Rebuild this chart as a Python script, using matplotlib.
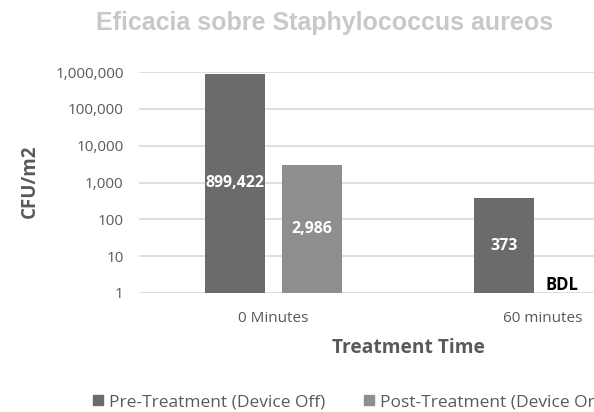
import numpy as np
import matplotlib.pyplot as plt
from matplotlib.patches import Patch

categories = ["0 Minutes", "60 minutes"]
pre_values = [899422, 373]
post_values = [2986, np.nan]  # BDL at 60 minutes
pre_labels = ["899,422", "373"]
post_labels = ["2,986", "BDL"]
series_names = ["Pre-Treatment (Device Off)", "Post-Treatment (Device On)"]
ytick_vals = [1, 10, 100, 1000, 10000, 100000, 1000000]
ytick_labels = ["1", "10", "100", "1,000", "10,000", "100,000", "1,000,000"]

pre_color = "#6b6b6b"
post_color = "#8e8e8e"

plt.rcParams['font.family'] = ['Open Sans', 'DejaVu Sans']

fig = plt.figure(figsize=(5.94, 4.12), dpi=100)
ax = fig.add_axes([0.234, 0.289, 0.907, 0.536])

x = np.arange(len(categories))
w = 0.222
off_pre, off_post = -0.144, 0.141

ax.bar(x + off_pre, np.array(pre_values) - 1, w, bottom=1, color=pre_color, zorder=3)
post_arr = np.nan_to_num(np.array(post_values, dtype=float), nan=1.0)
ax.bar(x + off_post, post_arr - 1, w, bottom=1, color=post_color, zorder=3)

ax.set_yscale('log')
ax.set_ylim(1, 1e6)
ax.set_xlim(-0.5, 1.5)
ax.set_yticks(ytick_vals)
ax.set_yticklabels(ytick_labels)
ax.minorticks_off()
ax.set_xticks(x)
ax.set_xticklabels(categories)
ax.tick_params(axis='both', length=0, labelsize=11, labelcolor="#5a5a5a")
ax.tick_params(axis='y', pad=11)
ax.tick_params(axis='x', pad=13)
ax.yaxis.grid(True, color="#d9d9d9", linewidth=1.2, zorder=0)
for s in ax.spines.values():
    s.set_visible(False)

for i, v in enumerate(pre_values):
    ax.text(x[i] + off_pre, np.sqrt(v), pre_labels[i], ha='center', va='center',
            color='white', fontsize=11.5, fontweight='bold', zorder=4)
for i, v in enumerate(post_values):
    if np.isnan(v):
        ax.text(x[i] + off_post - 0.07, 1.6, post_labels[i], ha='center', va='center',
                color='black', fontsize=12, fontweight='bold', zorder=4)
    else:
        ax.text(x[i] + off_post, np.sqrt(v), post_labels[i], ha='center', va='center',
                color='white', fontsize=11.5, fontweight='bold', zorder=4)

fig.text(0.546, 0.927, "Eficacia sobre Staphylococcus aureos", ha='center', va='baseline',
         fontsize=18, fontweight='bold', color="#c8c8c8", family='Liberation Sans')
fig.text(0.05, 0.56, "CFU/m2", rotation=90, ha='center', va='center',
         fontsize=13.5, fontweight='bold', color="#595959")
fig.text(0.688, 0.155, "Treatment Time", ha='center', va='center',
         fontsize=13.8, fontweight='bold', color="#595959")

# legend runs off the right edge, as in the original
handles = [Patch(color=pre_color), Patch(color=post_color)]
fig.legend(handles, series_names, loc='center left', bbox_to_anchor=(0.157, 0.024),
           ncol=2, frameon=False, fontsize=12.5, labelcolor="#5a5a5a",
           borderaxespad=0, borderpad=0,
           handlelength=0.55, handleheight=0.55, handletextpad=0.35, columnspacing=2.25)

fig.savefig("out.png", dpi=100)
